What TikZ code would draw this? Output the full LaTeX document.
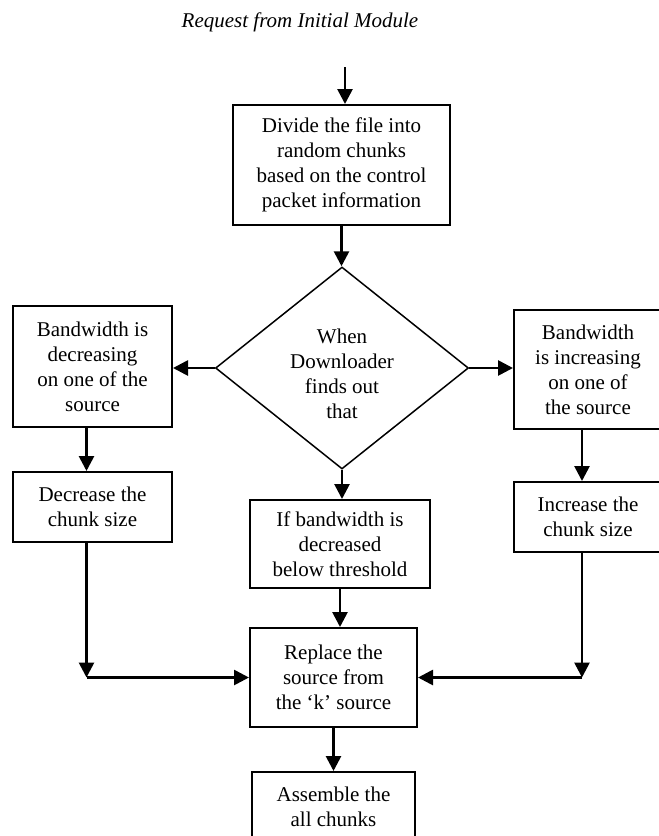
\documentclass[tikz,border=0pt]{standalone}
\usepackage{fontspec}
\setmainfont{Liberation Serif}
\usetikzlibrary{shapes.geometric, arrows.meta, positioning}

\begin{document}
\begin{tikzpicture}[
    x=1pt, y=1pt,
    font=\fontsize{21}{25}\selectfont,
    box/.style={rectangle, draw, line width=2pt, align=center, inner sep=0pt},
    decision/.style={diamond, draw, line width=1.5pt, align=center, inner sep=0pt, shape aspect=1.25, minimum width=253pt, minimum height=202pt},
    arrow/.style={-{Triangle[length=15pt, width=15pt]}, line width=2.7pt}
]
    \useasboundingbox (0,0) rectangle (659,-836);

    \node[font=\fontsize{21}{25}\selectfont\itshape] (title) at (300,-22) {Request from Initial Module};
    \coordinate (start) at (345,-67);

    \node[box, minimum width=217pt, minimum height=120pt] (divide) at (341.5,-165) {Divide the file into\\ random chunks\\ based on the control\\ packet information};
    \node[decision] (when) at (342,-368) {\rule{0pt}{27pt}When\\ Downloader\\ finds out\\ that};
    \node[box, minimum width=159pt, minimum height=121pt] (dec) at (92.5,-366.5) {Bandwidth is\\ decreasing\\ on one of the\\ source};
    \node[box, minimum width=148pt, minimum height=119pt] (inc) at (588,-369.5) {Bandwidth\\ is increasing\\ on one of\\ the source};
    \node[box, minimum width=159pt, minimum height=70pt, below=43pt of dec] (decsize) {Decrease the\\ chunk size};
    \node[box, minimum width=148pt, minimum height=70pt, below=51pt of inc] (incsize) {Increase the\\ chunk size};
    \node[box, minimum width=180pt, minimum height=88pt] (thresh) at (340,-544) {If bandwidth is\\ decreased\\ below threshold};
    \node[box, minimum width=167pt, minimum height=99pt] (replace) at (333.5,-677.5) {Replace the\\ source from\\ the `k' source};
    \node[box, minimum width=163pt, minimum height=70pt, below=43pt of replace] (assemble) {Assemble the\\ all chunks};

    \coordinate (lcorner) at ([xshift=-6pt]decsize.south |- replace.west);
    \coordinate (rcorner) at ([xshift=-6pt]incsize.south |- replace.east);

    \draw[arrow] (start) -- (start |- divide.north);
    \draw[arrow] (divide.south) -- (divide.south |- when.north);
    \draw[arrow] (when.west) -- (when.west -| dec.east);
    \draw[arrow] (when.east) -- (when.east -| inc.west);
    \draw[arrow] ([xshift=-6pt]dec.south) -- ([xshift=-6pt]decsize.north);
    \draw[arrow] ([xshift=-6pt]inc.south) -- ([xshift=-6pt]incsize.north);
    \draw[arrow] (when.south) -- (when.south |- thresh.north);
    \draw[arrow] (thresh.south) -- (thresh.south |- replace.north);
    \draw[arrow] (replace.south) -- (replace.south |- assemble.north);
    \draw[arrow] ([xshift=-6pt]decsize.south) -- (lcorner);
    \draw[arrow] (lcorner) -- (replace.west);
    \draw[arrow] ([xshift=-6pt]incsize.south) -- (rcorner);
    \draw[arrow] (rcorner) -- (replace.east);

\end{tikzpicture}
\end{document}
